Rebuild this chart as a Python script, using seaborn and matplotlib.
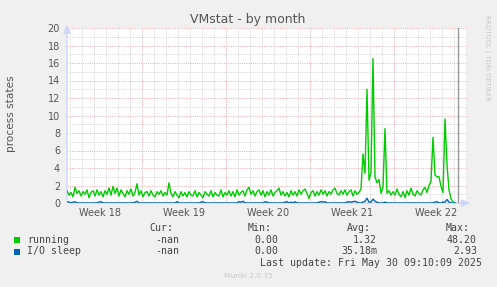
import numpy as np
import pandas as pd
import matplotlib
matplotlib.use("Agg")
import matplotlib.pyplot as plt
import seaborn as sns
from matplotlib.patches import Rectangle

# ---------------- data ----------------
start_day = 0.75          # days after start of Week 18
step_day = 1.0 / 6.0      # 4-hour samples

running = [
    1.4, 0.9, 1.2, 0.7, 1.8, 1.1, 1.4, 0.8, 1.3, 1.0,
    1.5, 0.6, 1.2, 1.4, 0.8, 1.5, 0.9, 1.3, 0.7, 1.4,
    1.0, 1.7, 0.9, 1.9, 1.1, 1.7, 0.8, 1.5, 1.1, 0.7,
    1.4, 1.0, 1.6, 0.8, 1.2, 2.2, 0.9, 1.4, 0.7, 1.2,
    1.3, 0.8, 1.4, 0.9, 0.7, 1.3, 1.0, 1.4, 0.8, 1.2,
    0.9, 2.3, 1.1, 0.7, 1.3, 0.9, 0.6, 1.3, 0.8, 1.2,
    0.7, 1.3, 0.9, 0.8, 1.4, 0.7, 1.2, 0.9, 0.6, 1.3,
    1.0, 0.8, 1.4, 0.7, 1.2, 0.9, 0.8, 1.5, 0.7, 1.2,
    0.9, 1.4, 0.8, 1.3, 0.7, 1.5, 0.9, 1.2, 1.4, 0.8,
    1.5, 1.8, 1.0, 1.4, 0.8, 1.3, 1.5, 0.9, 1.4, 0.7,
    1.3, 0.9, 1.5, 0.8, 1.2, 1.4, 1.7, 0.9, 1.3, 0.8,
    1.2, 0.7, 1.4, 0.9, 1.3, 0.8, 1.5, 1.0, 1.4, 1.6,
    1.1, 0.5, 1.2, 1.4, 0.8, 1.3, 0.9, 1.5, 1.0, 1.4,
    0.8, 1.3, 1.0, 1.5, 1.7, 1.1, 0.9, 1.4, 1.0, 1.5,
    0.9, 1.3, 1.5, 0.8, 1.4, 1.0, 1.2, 1.6, 5.6, 3.4,
    13.0, 2.6, 3.5, 16.5, 3.0, 2.3, 2.7, 1.1, 1.8, 8.5,
    1.1, 1.4, 0.9, 1.3, 0.9, 1.6, 1.0, 0.7, 1.3, 0.6,
    1.4, 0.9, 1.7, 1.0, 0.8, 1.4, 1.1, 0.9, 1.5, 1.8,
    1.2, 2.0, 2.5, 7.5, 3.2, 3.0, 3.0, 1.9, 1.2, 9.6,
    4.4, 1.5, 0.5, 0.1, 0.0,
]

io_sleep = [
    0.15, 0.1, 0, 0.1, 0.15, 0, 0, 0, 0, 0,
    0, 0, 0, 0, 0, 0, 0.1, 0.15, 0, 0,
    0, 0, 0, 0, 0, 0, 0, 0, 0, 0,
    0, 0, 0, 0, 0.1, 0.2, 0, 0, 0, 0,
    0, 0, 0, 0, 0, 0, 0, 0, 0, 0,
    0, 0, 0, 0, 0, 0.15, 0, 0, 0, 0,
    0, 0, 0, 0, 0, 0, 0, 0.1, 0.15, 0,
    0, 0, 0, 0, 0, 0, 0, 0, 0, 0,
    0, 0, 0, 0, 0, 0, 0.15, 0.1, 0.2, 0,
    0, 0, 0, 0, 0, 0, 0, 0, 0, 0.15,
    0.1, 0, 0, 0, 0, 0, 0, 0, 0, 0.1,
    0.15, 0, 0.1, 0, 0.15, 0, 0, 0, 0, 0,
    0, 0, 0, 0, 0, 0, 0.1, 0.15, 0.1, 0.15,
    0, 0, 0, 0, 0, 0, 0, 0, 0, 0,
    0.1, 0.15, 0.1, 0.15, 0.2, 0.1, 0, 0, 0.1, 0.2,
    0.55, 0.1, 0.1, 0.45, 0.2, 0.1, 0, 0, 0, 0.1,
    0, 0, 0, 0, 0, 0, 0, 0, 0, 0,
    0, 0, 0, 0, 0, 0, 0, 0, 0, 0,
    0, 0, 0, 0, 0.1, 0.15, 0, 0, 0.1, 0.1,
    0.4, 0.1, 0, 0, 0,
]

week_labels = ["Week 18", "Week 19", "Week 20", "Week 21", "Week 22"]
week_centers = [3.5, 10.5, 17.5, 24.5, 31.5]
y_ticks = [0, 2, 4, 6, 8, 10, 12, 14, 16, 18, 20]

series_names = ["running", "I/O sleep"]
series_colors = ["#00CC00", "#0066B3"]
cur_vals = ["-nan", "-nan"]
min_vals = ["0.00", "0.00"]
avg_vals = ["1.32", "35.18m"]
max_vals = ["48.20", "2.93"]
now_marker_day = 33.33

days = start_day + step_day * np.arange(len(running))
df = pd.DataFrame({"day": days, "running": running, "io": io_sleep})

# ---------------- figure ----------------
W, H = 497, 287
fig = plt.figure(figsize=(W / 100, H / 100), dpi=100, facecolor="#F0F0F0")
ax = fig.add_axes([67 / W, 84 / H, 400 / W, 175 / H])
ax.set_facecolor("white")
for s in ax.spines.values():
    s.set_visible(False)

x0, x1 = 0.75, 0.75 + 400 / 12
ax.set_xlim(x0, x1)
ax.set_ylim(0, 20)

dot = (0, (1, 1.3))
minor_c = "#D2D2D2"
major_c = "#EEAAAA"
for d in range(1, 35):
    if d % 7 != 0:
        ax.axvline(d, color=minor_c, lw=0.7, ls=dot, zorder=0)
for yv in range(1, 21, 2):
    ax.axhline(yv, color=minor_c, lw=0.7, ls=dot, zorder=0)
for d in (7, 14, 21, 28):
    ax.axvline(d, color=major_c, lw=0.7, ls=dot, zorder=0.5)
for yv in range(2, 21, 2):
    ax.axhline(yv, color=major_c, lw=0.7, ls=dot, zorder=0.5)

sns.lineplot(data=df, x="day", y="running", color=series_colors[0], lw=1.0, ax=ax, zorder=3)
sns.lineplot(data=df, x="day", y="io", color=series_colors[1], lw=1.0, ax=ax, zorder=4)
ax.axvline(now_marker_day, color="#999999", lw=1.0, zorder=2)

ax.set_xlabel("")
ax.set_ylabel("")
ax.set_xticks(week_centers)
ax.set_xticklabels(week_labels)
ax.set_yticks(y_ticks)
ax.set_yticklabels([str(v) for v in y_ticks])
ax.tick_params(axis="x", length=0, pad=3.5, labelsize=7, colors="#555555")
ax.tick_params(axis="y", length=0, pad=5, labelsize=7, colors="#555555")

axis_c = "#CFD6F8"
ax.annotate("", xy=(0, 1.035), xytext=(0, 0), xycoords="axes fraction",
            arrowprops=dict(arrowstyle="-|>,head_length=0.5,head_width=0.22", color=axis_c, lw=1),
            annotation_clip=False, zorder=1)
ax.annotate("", xy=(1.015, 0), xytext=(0, 0), xycoords="axes fraction",
            arrowprops=dict(arrowstyle="-|>,head_length=0.5,head_width=0.22", color=axis_c, lw=1),
            annotation_clip=False, zorder=1)


def fx(px):
    return px / W


def fy(py):
    return 1 - py / H


fig.text(fx(248), fy(19), "VMstat - by month", ha="center", va="center",
         fontsize=9, color="#555555")
fig.text(fx(11), fy(114), "process states", rotation=90, ha="center", va="center",
         fontsize=7.6, color="#555555")
fig.text(fx(487), fy(58), "RRDTOOL / TOBI OETIKER", rotation=270, ha="center", va="center",
         fontsize=4.9, color="#C8C8C8")

mono = dict(family="DejaVu Sans Mono", fontsize=7.1, color="#444444", va="center")
for lbl, xr in zip(["Cur:", "Min:", "Avg:", "Max:"], [173, 272, 371, 470]):
    fig.text(fx(xr), fy(228), lbl, ha="right", **mono)

rows_y = [240, 251.5]
for i in range(2):
    yy = rows_y[i]
    fig.patches.append(Rectangle((fx(14), fy(yy + 3)), 6 / W, 6 / H,
                                 transform=fig.transFigure, facecolor=series_colors[i],
                                 edgecolor="none"))
    fig.text(fx(27), fy(yy), series_names[i], ha="left", **mono)
    fig.text(fx(179), fy(yy), cur_vals[i], ha="right", **mono)
    fig.text(fx(278), fy(yy), min_vals[i], ha="right", **mono)
    fig.text(fx(377), fy(yy), avg_vals[i], ha="right", **mono)
    fig.text(fx(477), fy(yy), max_vals[i], ha="right", **mono)

fig.text(fx(482), fy(263), "Last update: Fri May 30 09:10:09 2025", ha="right", **mono)
fig.text(fx(248), fy(276), "Munin 2.0.75", ha="center", va="center",
         fontsize=5.4, color="#C8C8C8")

fig.savefig("out.png", dpi=100, facecolor=fig.get_facecolor())
